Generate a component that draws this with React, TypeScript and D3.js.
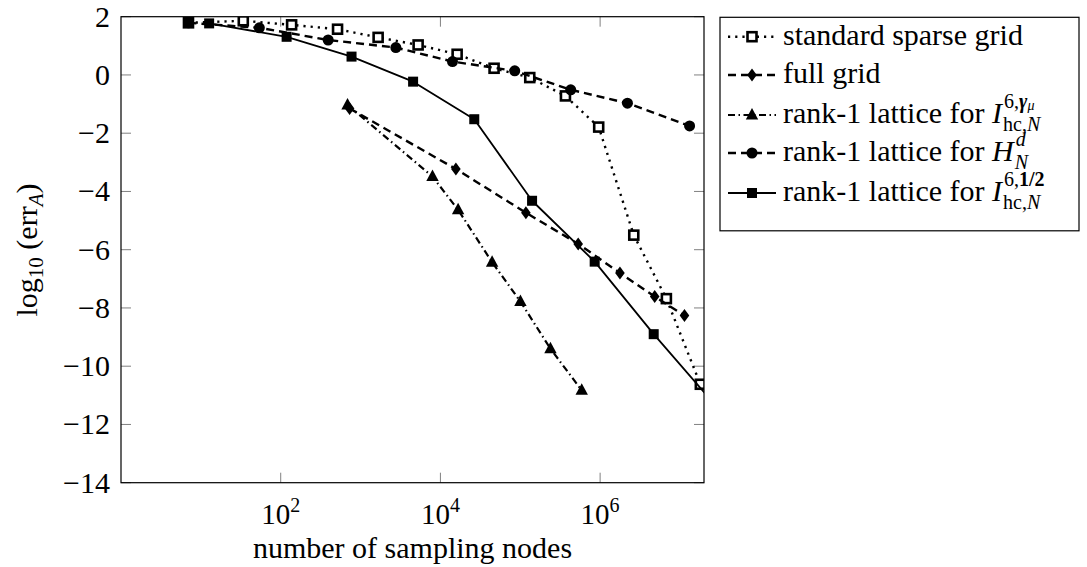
import React, { useEffect, useRef } from "react";
import * as d3 from "d3";

// values (x = number of sampling nodes, y = log10 error)
const sparseN = [7, 34, 137, 515, 1660, 5260, 16200, 47000, 131500, 368000, 960000, 2640000, 6760000, 18000000];
const sparseErr = [1.79, 1.86, 1.72, 1.57, 1.29, 1.03, 0.71, 0.23, -0.09, -0.72, -1.79, -5.5, -7.68, -10.62];

const fullN = [729, 15625, 117649, 531441, 1771561, 4826809, 11390625];
const fullErr = [-1.15, -3.23, -4.73, -5.8, -6.8, -7.61, -8.26];

const gammaN = [687, 7960, 16660, 44400, 100500, 238800, 588600];
const gammaErr = [-1.03, -3.49, -4.63, -6.43, -7.78, -9.4, -10.83];

const hdN = [7, 54, 393, 2767, 14170, 85300, 428500, 2200000, 13200000];
const hdErr = [1.79, 1.62, 1.2, 0.94, 0.46, 0.14, -0.51, -0.97, -1.75];

const halfN = [12.7, 118.6, 771, 4550, 26550, 140600, 855000, 4690000, 28000000];
const halfErr = [1.77, 1.31, 0.63, -0.23, -1.52, -4.32, -6.41, -8.9, -11.35];

const xTicks = [2, 4, 6];
const yTicks = [2, 0, -2, -4, -6, -8, -10, -12, -14];

const FONT = "Liberation Serif, DejaVu Serif, Noto Serif, Times New Roman, serif";

const App = () => {
  const ref = useRef<SVGSVGElement>(null);

  useEffect(() => {
    const svg = d3.select(ref.current);
    svg.selectAll("*").remove();

    const left = 121, right = 704, top = 16.7, bottom = 482.7;
    const x = d3.scaleLog().domain([1, 2e7]).range([left, right]);
    const y = d3.scaleLinear().domain([-14, 2]).range([bottom, top]);

    svg.append("defs").append("clipPath").attr("id", "plotclip")
      .append("rect").attr("x", left).attr("y", top)
      .attr("width", right - left).attr("height", bottom - top);

    // ticks (inside, on all four sides)
    const tk = svg.append("g").attr("stroke", "#808080").attr("stroke-width", 1);
    xTicks.forEach((e) => {
      const px = x(Math.pow(10, e));
      tk.append("line").attr("x1", px).attr("x2", px).attr("y1", bottom).attr("y2", bottom - 10);
      tk.append("line").attr("x1", px).attr("x2", px).attr("y1", top).attr("y2", top + 10);
    });
    yTicks.forEach((v) => {
      const py = y(v);
      tk.append("line").attr("x1", left).attr("x2", left + 10).attr("y1", py).attr("y2", py);
      tk.append("line").attr("x1", right).attr("x2", right - 10).attr("y1", py).attr("y2", py);
    });

    // tick labels
    const lbl = svg.append("g").attr("font-family", FONT).attr("fill", "black");
    xTicks.forEach((e) => {
      const t = lbl.append("text").attr("x", x(Math.pow(10, e))).attr("y", 524)
        .attr("text-anchor", "middle").attr("font-size", 29);
      t.append("tspan").text("10");
      t.append("tspan").attr("dy", -12).attr("font-size", 20).text(String(e));
    });
    yTicks.forEach((v) => {
      lbl.append("text").attr("x", 110).attr("y", y(v) + 10)
        .attr("text-anchor", "end").attr("font-size", 30)
        .text(v < 0 ? "\u2212" + Math.abs(v) : String(v));
    });

    lbl.append("text").attr("x", (left + right) / 2).attr("y", 558)
      .attr("text-anchor", "middle").attr("font-size", 30).text("number of sampling nodes");

    const yl = lbl.append("text").attr("transform", "translate(37,250) rotate(-90)")
      .attr("text-anchor", "middle").attr("font-size", 30);
    yl.append("tspan").text("log");
    yl.append("tspan").attr("dy", 6).attr("font-size", 21).text("10");
    yl.append("tspan").attr("dy", -6).text(" (err");
    yl.append("tspan").attr("dy", 6).attr("font-size", 21).attr("font-style", "italic").text("A");
    yl.append("tspan").attr("dy", -6).text(")");

    // series
    const series = [
      { n: sparseN, e: sparseErr, dash: "2.2 5", w: 2.4, mark: "osquare" },
      { n: fullN, e: fullErr, dash: "8 5", w: 2.4, mark: "diamond" },
      { n: gammaN, e: gammaErr, dash: "7 3.5 1.5 3.5", w: 2.2, mark: "triangle" },
      { n: hdN, e: hdErr, dash: "8 5", w: 2.4, mark: "circle" },
      { n: halfN, e: halfErr, dash: null, w: 1.8, mark: "square" },
    ];

    const drawMark = (g: any, kind: string, cx: number, cy: number) => {
      if (kind === "osquare") {
        g.append("rect").attr("x", cx - 4.5).attr("y", cy - 4.5).attr("width", 9).attr("height", 9)
          .attr("fill", "white").attr("stroke", "black").attr("stroke-width", 2.6);
      } else if (kind === "square") {
        g.append("rect").attr("x", cx - 5).attr("y", cy - 5).attr("width", 10).attr("height", 10)
          .attr("fill", "black");
      } else if (kind === "circle") {
        g.append("circle").attr("cx", cx).attr("cy", cy).attr("r", 5.5).attr("fill", "black");
      } else if (kind === "diamond") {
        g.append("path").attr("d", `M${cx},${cy - 6.5}L${cx + 4.8},${cy}L${cx},${cy + 6.5}L${cx - 4.8},${cy}Z`)
          .attr("fill", "black");
      } else if (kind === "triangle") {
        g.append("path").attr("d", `M${cx},${cy - 7}L${cx + 6.2},${cy + 4.5}L${cx - 6.2},${cy + 4.5}Z`)
          .attr("fill", "black");
      }
    };

    const plot = svg.append("g").attr("clip-path", "url(#plotclip)");
    series.forEach((s) => {
      const pts: [number, number][] = s.n.map((n, i) => [x(n), y(s.e[i])]);
      const ln = d3.line();
      const p = plot.append("path").attr("d", ln(pts)).attr("fill", "none")
        .attr("stroke", "black").attr("stroke-width", s.w).attr("stroke-linejoin", "round");
      if (s.dash) p.attr("stroke-dasharray", s.dash);
      const mg = plot.append("g");
      pts.forEach(([cx, cy]) => drawMark(mg, s.mark, cx, cy));
    });

    // frame
    svg.append("rect").attr("x", left).attr("y", top).attr("width", right - left)
      .attr("height", bottom - top).attr("fill", "none").attr("stroke", "black").attr("stroke-width", 1.2);

    // legend
    const lg = svg.append("g").attr("font-family", FONT);
    lg.append("rect").attr("x", 720).attr("y", 17.3).attr("width", 359).attr("height", 213.5)
      .attr("fill", "white").attr("stroke", "black").attr("stroke-width", 1.2);
    const rowsY = [36.7, 75, 115, 153, 193];
    series.forEach((s, i) => {
      const cy = rowsY[i];
      const l = lg.append("line").attr("x1", 728).attr("x2", 776).attr("y1", cy).attr("y2", cy)
        .attr("stroke", "black").attr("stroke-width", s.w);
      if (s.dash) l.attr("stroke-dasharray", s.dash);
      drawMark(lg, s.mark, 752, cy);
    });

    const tx = 783;
    const mainText = (cy: number, plain: string, italic?: string) => {
      const t = lg.append("text").attr("x", tx).attr("y", cy + 8).attr("font-size", 30);
      t.append("tspan").text(plain);
      if (italic) t.append("tspan").attr("font-style", "italic").text(italic);
      const node = t.node() as SVGTextElement;
      return tx + node.getComputedTextLength();
    };

    mainText(rowsY[0], "standard sparse grid");
    mainText(rowsY[1], "full grid");

    // I^{6,gamma_mu}_{hc,N}
    let end = mainText(rowsY[2], "rank-1 lattice for ", "I");
    let sup = lg.append("text").attr("x", end + 2).attr("y", rowsY[2] - 7).attr("font-size", 20);
    sup.append("tspan").text("6,");
    sup.append("tspan").attr("font-weight", "bold").attr("font-style", "italic").text("\u03b3");
    sup.append("tspan").attr("dy", 2).attr("font-size", 14).attr("font-style", "italic").text("\u03bc");
    let sub = lg.append("text").attr("x", end + 1).attr("y", rowsY[2] + 16).attr("font-size", 20);
    sub.append("tspan").text("hc,");
    sub.append("tspan").attr("font-style", "italic").text("N");

    // H^d_N
    end = mainText(rowsY[3], "rank-1 lattice for ", "H");
    lg.append("text").attr("x", end + 2).attr("y", rowsY[3] - 7).attr("font-size", 20)
      .attr("font-style", "italic").text("d");
    lg.append("text").attr("x", end + 1).attr("y", rowsY[3] + 16).attr("font-size", 20)
      .attr("font-style", "italic").text("N");

    // I^{6,1/2}_{hc,N}
    end = mainText(rowsY[4], "rank-1 lattice for ", "I");
    sup = lg.append("text").attr("x", end + 2).attr("y", rowsY[4] - 7).attr("font-size", 20);
    sup.append("tspan").text("6,");
    sup.append("tspan").attr("font-weight", "bold").text("1/2");
    sub = lg.append("text").attr("x", end + 1).attr("y", rowsY[4] + 16).attr("font-size", 20);
    sub.append("tspan").text("hc,");
    sub.append("tspan").attr("font-style", "italic").text("N");
  }, []);

  return (
    <svg ref={ref} width={1087} height={567}
      style={{ position: "absolute", left: 0, top: 0, display: "block", background: "white" }} />
  );
};

export default App;
